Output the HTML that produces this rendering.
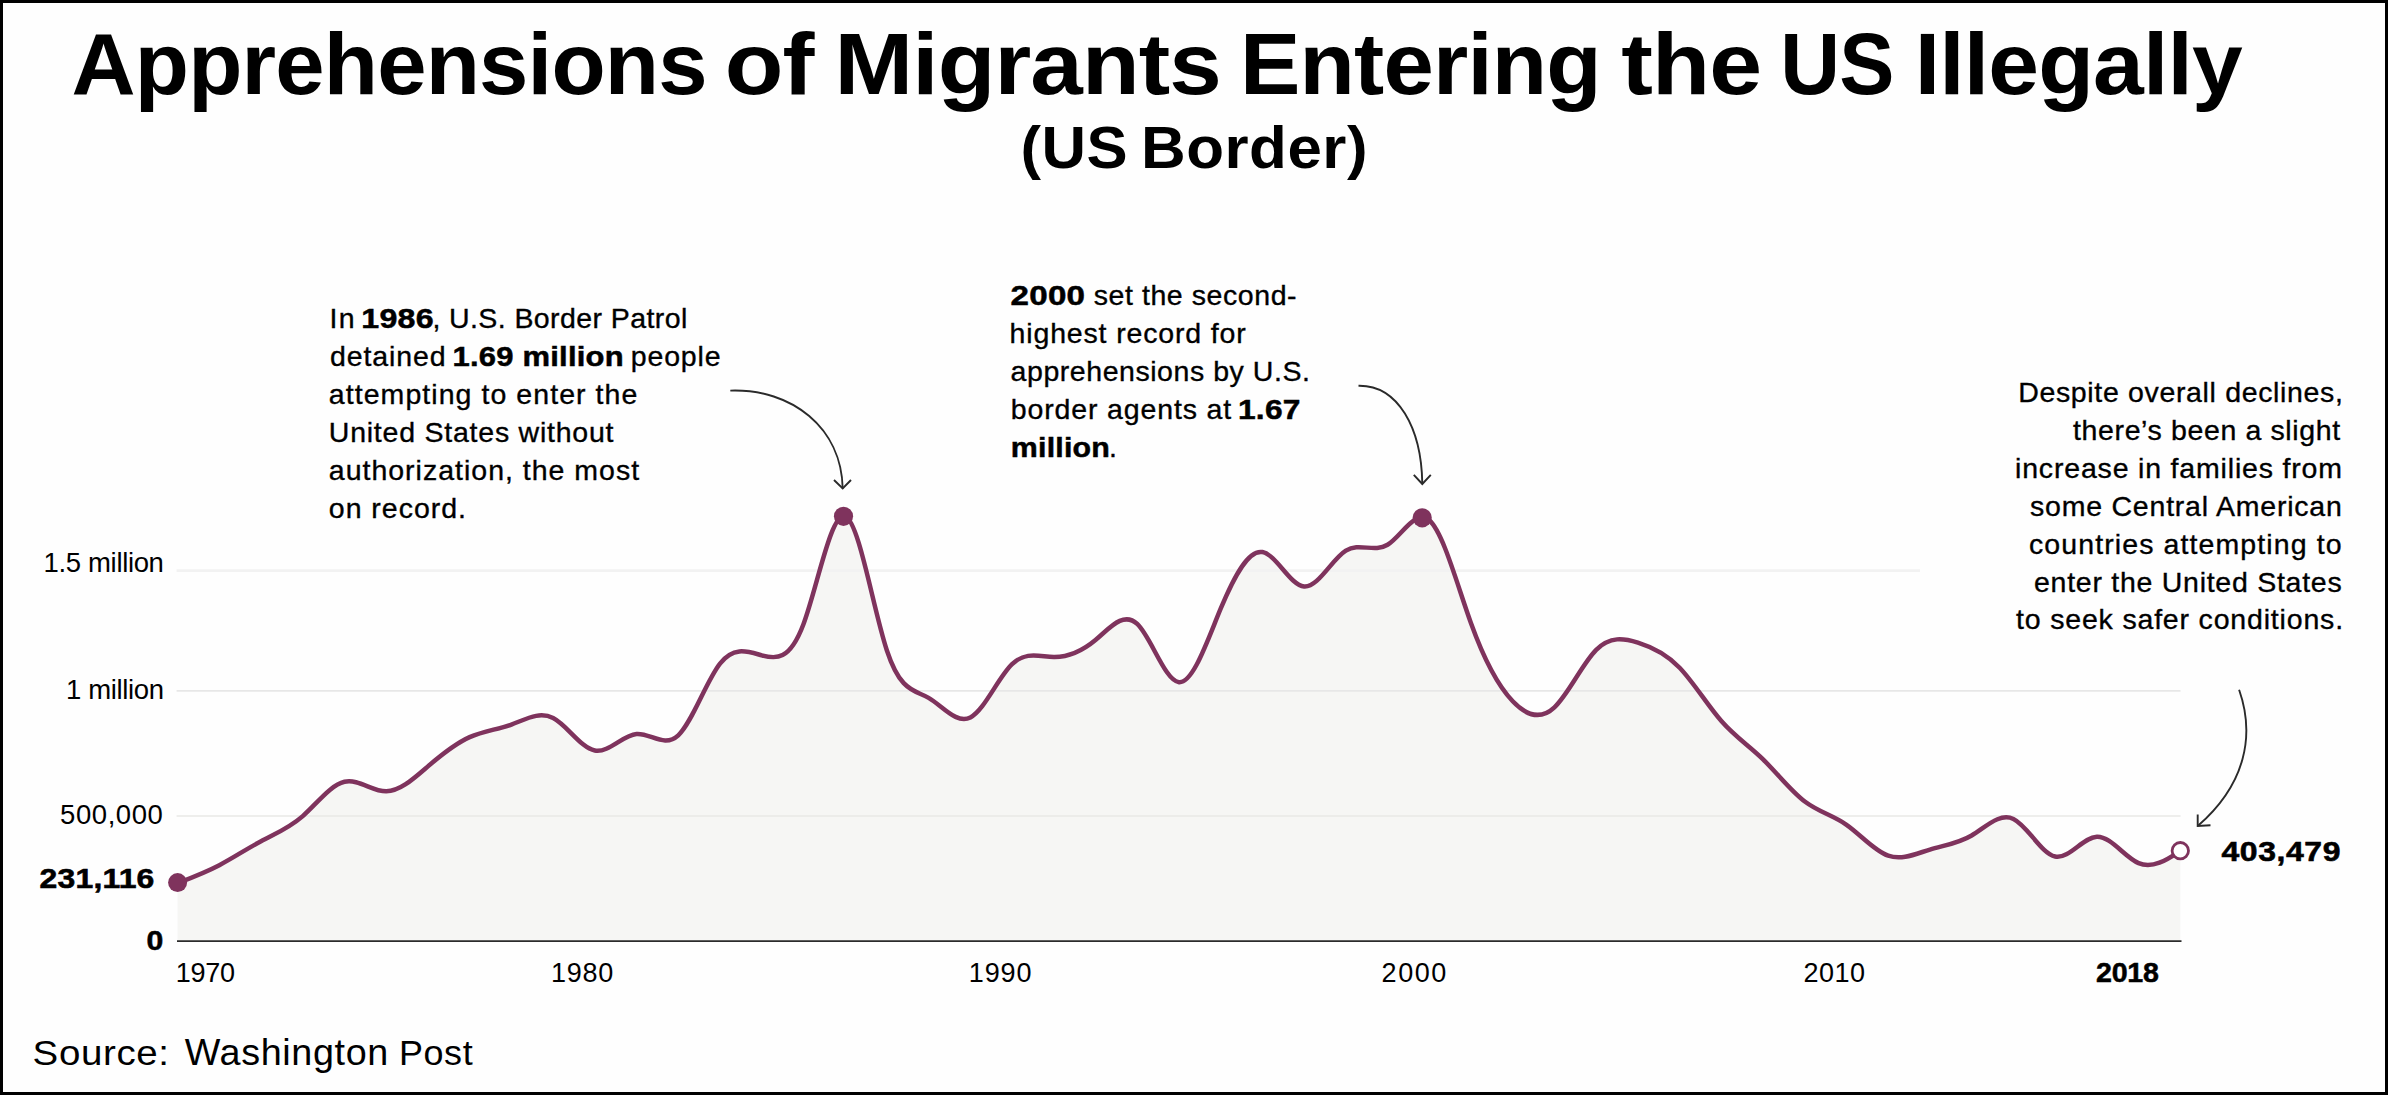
<!DOCTYPE html>
<html><head><meta charset="utf-8"><title>Apprehensions of Migrants Entering the US Illegally</title>
<style>
html,body{margin:0;padding:0;background:#fff;}
body{width:2388px;height:1095px;overflow:hidden;}
svg{display:block;font-family:"Liberation Sans",sans-serif;}
text{white-space:pre;}
</style></head><body>
<svg width="2388" height="1095" viewBox="0 0 2388 1095">
<rect x="0" y="0" width="2388" height="1095" fill="#fefefe"/>

<path d="M177.60,883.09C191.51,877.78 205.42,872.46 219.32,865.17C233.23,857.87 247.14,848.59 261.05,841.20C274.95,833.81 288.86,828.30 302.77,816.07C316.68,803.84 330.58,784.89 344.49,781.77C358.40,778.66 372.31,791.38 386.21,791.30C400.12,791.23 414.03,778.36 427.94,766.39C441.85,754.43 455.75,743.38 469.66,737.15C483.57,730.93 497.48,729.53 511.38,724.53C525.29,719.52 539.20,710.91 553.11,718.03C567.01,725.14 580.92,747.98 594.83,750.49C608.74,752.99 622.64,735.16 636.55,733.95C650.46,732.74 664.37,748.16 678.27,735.30C692.18,722.45 706.09,681.32 720.00,663.58C733.91,645.83 747.81,651.46 761.72,655.32C775.63,659.18 789.54,661.28 803.44,624.23C817.35,587.18 831.26,510.97 845.17,516.27C859.07,521.57 872.98,608.37 886.89,650.43C900.80,692.50 914.70,689.83 928.61,697.83C942.52,705.82 956.43,724.49 970.34,717.42C984.24,710.36 998.15,677.56 1012.06,664.16C1025.97,650.76 1039.87,656.75 1053.78,656.96C1067.69,657.17 1081.60,651.59 1095.50,640.01C1109.41,628.43 1123.32,610.85 1137.23,623.96C1151.13,637.07 1165.04,680.87 1178.95,682.15C1192.86,683.43 1206.77,642.19 1220.67,608.73C1234.58,575.26 1248.49,549.57 1262.40,552.08C1276.30,554.59 1290.21,585.30 1304.12,586.45C1318.03,587.60 1331.93,559.20 1345.84,550.60C1359.75,542.00 1373.66,553.21 1387.56,544.77C1401.47,536.32 1415.38,508.22 1429.29,520.31C1443.20,532.41 1457.10,584.71 1471.01,623.28C1484.92,661.85 1498.83,686.70 1512.73,701.32C1526.64,715.93 1540.55,720.30 1554.46,707.28C1568.36,694.25 1582.27,663.83 1596.18,649.84C1610.09,635.85 1623.99,638.31 1637.90,642.64C1651.81,646.98 1665.72,653.20 1679.63,667.74C1693.53,682.28 1707.44,705.14 1721.35,721.05C1735.26,736.96 1749.16,745.91 1763.07,759.42C1776.98,772.93 1790.89,790.99 1804.79,801.53C1818.70,812.07 1832.61,815.09 1846.52,824.79C1860.42,834.49 1874.33,850.89 1888.24,855.70C1902.15,860.51 1916.05,853.74 1929.96,849.54C1943.87,845.35 1957.78,843.73 1971.69,835.48C1985.59,827.24 1999.50,812.37 2013.41,818.95C2027.32,825.53 2041.22,853.54 2055.13,856.48C2069.04,859.42 2082.95,837.29 2096.85,836.73C2110.76,836.17 2124.67,857.18 2138.58,863.16C2152.48,869.13 2166.39,860.08 2180.30,851.03L2180.30,941.10L177.60,941.10Z" fill="#f6f6f4"/>
<line x1="176.6" y1="570.6" x2="1920" y2="570.6" stroke="#f2f2f2" stroke-width="2.6"/>
<line x1="176.6" y1="690.9" x2="2180.5" y2="690.9" stroke="#e7e7e7" stroke-width="1.7"/>
<line x1="176.6" y1="816" x2="2180.5" y2="816" stroke="#e8e8e6" stroke-width="1.7"/>
<line x1="177" y1="941.1" x2="2181.5" y2="941.1" stroke="#2b2b2b" stroke-width="1.9"/>
<path d="M177.60,883.09C191.51,877.78 205.42,872.46 219.32,865.17C233.23,857.87 247.14,848.59 261.05,841.20C274.95,833.81 288.86,828.30 302.77,816.07C316.68,803.84 330.58,784.89 344.49,781.77C358.40,778.66 372.31,791.38 386.21,791.30C400.12,791.23 414.03,778.36 427.94,766.39C441.85,754.43 455.75,743.38 469.66,737.15C483.57,730.93 497.48,729.53 511.38,724.53C525.29,719.52 539.20,710.91 553.11,718.03C567.01,725.14 580.92,747.98 594.83,750.49C608.74,752.99 622.64,735.16 636.55,733.95C650.46,732.74 664.37,748.16 678.27,735.30C692.18,722.45 706.09,681.32 720.00,663.58C733.91,645.83 747.81,651.46 761.72,655.32C775.63,659.18 789.54,661.28 803.44,624.23C817.35,587.18 831.26,510.97 845.17,516.27C859.07,521.57 872.98,608.37 886.89,650.43C900.80,692.50 914.70,689.83 928.61,697.83C942.52,705.82 956.43,724.49 970.34,717.42C984.24,710.36 998.15,677.56 1012.06,664.16C1025.97,650.76 1039.87,656.75 1053.78,656.96C1067.69,657.17 1081.60,651.59 1095.50,640.01C1109.41,628.43 1123.32,610.85 1137.23,623.96C1151.13,637.07 1165.04,680.87 1178.95,682.15C1192.86,683.43 1206.77,642.19 1220.67,608.73C1234.58,575.26 1248.49,549.57 1262.40,552.08C1276.30,554.59 1290.21,585.30 1304.12,586.45C1318.03,587.60 1331.93,559.20 1345.84,550.60C1359.75,542.00 1373.66,553.21 1387.56,544.77C1401.47,536.32 1415.38,508.22 1429.29,520.31C1443.20,532.41 1457.10,584.71 1471.01,623.28C1484.92,661.85 1498.83,686.70 1512.73,701.32C1526.64,715.93 1540.55,720.30 1554.46,707.28C1568.36,694.25 1582.27,663.83 1596.18,649.84C1610.09,635.85 1623.99,638.31 1637.90,642.64C1651.81,646.98 1665.72,653.20 1679.63,667.74C1693.53,682.28 1707.44,705.14 1721.35,721.05C1735.26,736.96 1749.16,745.91 1763.07,759.42C1776.98,772.93 1790.89,790.99 1804.79,801.53C1818.70,812.07 1832.61,815.09 1846.52,824.79C1860.42,834.49 1874.33,850.89 1888.24,855.70C1902.15,860.51 1916.05,853.74 1929.96,849.54C1943.87,845.35 1957.78,843.73 1971.69,835.48C1985.59,827.24 1999.50,812.37 2013.41,818.95C2027.32,825.53 2041.22,853.54 2055.13,856.48C2069.04,859.42 2082.95,837.29 2096.85,836.73C2110.76,836.17 2124.67,857.18 2138.58,863.16C2152.48,869.13 2166.39,860.08 2180.30,851.03" fill="none" stroke="#7f335d" stroke-width="4.5" stroke-linejoin="round" stroke-linecap="round"/>
<circle cx="177.6" cy="882.6" r="9.5" fill="#7f335d"/>
<circle cx="843.5" cy="516.3" r="9.6" fill="#7f335d"/>
<circle cx="1422.2" cy="517.8" r="9.6" fill="#7f335d"/>
<circle cx="2180.3" cy="850.7" r="8.2" fill="#fff" stroke="#7f335d" stroke-width="2.8"/>
<g fill="none" stroke="#2a2a2a" stroke-width="1.9" stroke-linecap="butt" stroke-linejoin="miter">
<path d="M730.3,390.6 C792,388.5 841.5,428 842.7,488.5"/>
<path d="M834,480 L842.7,488.5 L851,480"/>
<path d="M1358.5,385.7 C1398,385 1421.5,428 1422.3,483.8"/>
<path d="M1413.8,474.8 L1422.3,484 L1430.8,474.8"/>
<path d="M2239.1,689.8 C2255,735 2246,784 2198,825.8"/>
<path d="M2197.7,814.6 L2197.7,826 L2210.5,825.3"/>
</g>

<text transform="translate(71.60,93.70) scale(1.0258,1)" font-size="86.50" font-weight="700" letter-spacing="-0.800" fill="#000">Apprehensions</text>
<text transform="translate(724.80,93.70) scale(1.1105,1)" font-size="86.50" font-weight="700" letter-spacing="-0.800" fill="#000">of</text>
<text transform="translate(834.60,93.70) scale(1.0915,1)" font-size="86.50" font-weight="700" letter-spacing="-0.800" fill="#000">Migrants</text>
<text transform="translate(1240.00,93.70) scale(1.0475,1)" font-size="86.50" font-weight="700" letter-spacing="-0.800" fill="#000">Entering</text>
<text transform="translate(1621.20,93.70) scale(1.0993,1)" font-size="86.50" font-weight="700" letter-spacing="-0.800" fill="#000">the</text>
<text transform="translate(1780.20,93.70) scale(0.9561,1)" font-size="86.50" font-weight="700" letter-spacing="-0.800" fill="#000">US</text>
<text transform="translate(1914.80,93.70) scale(1.0549,1)" font-size="86.50" font-weight="700" letter-spacing="-0.800" fill="#000">Illegally</text>
<text transform="translate(1020.40,168.40) scale(1.0453,1)" font-size="59.00" font-weight="700" letter-spacing="0.500" fill="#000">(US</text>
<text transform="translate(1141.00,168.40) scale(1.0486,1)" font-size="59.00" font-weight="700" letter-spacing="0.500" fill="#000">Border)</text>
<text transform="translate(32.60,1064.80) scale(1.0691,1)" font-size="36.00" letter-spacing="0.600" fill="#000">Source:</text>
<text transform="translate(184.80,1064.80) scale(1.0479,1)" font-size="36.00" letter-spacing="0.600" fill="#000">Washington</text>
<text transform="translate(399.00,1064.80) scale(0.9975,1)" font-size="36.00" letter-spacing="0.600" fill="#000">Post</text>
<text x="43.60" y="572.00" font-size="27.50" letter-spacing="-0.350" fill="#000">1.5 million</text>
<text x="66.00" y="699.30" font-size="27.50" letter-spacing="-0.350" fill="#000">1 million</text>
<text x="60.00" y="824.00" font-size="27.50" letter-spacing="0.582" fill="#000">500,000</text>
<text transform="translate(146.60,950.40) scale(1.1200,1)" font-size="27.00" font-weight="700" stroke="#000" stroke-width="0.50" letter-spacing="0.000" fill="#000">0</text>
<text transform="translate(39.60,888.00) scale(1.1200,1)" font-size="28.50" font-weight="700" stroke="#000" stroke-width="0.60" letter-spacing="0.168" fill="#000">231,116</text>
<text transform="translate(2221.40,860.50) scale(1.1200,1)" font-size="28.50" font-weight="700" stroke="#000" stroke-width="0.60" letter-spacing="0.553" fill="#000">403,479</text>
<text x="175.80" y="982.00" font-size="27.00" letter-spacing="-0.266" fill="#000">1970</text>
<text x="551.00" y="982.00" font-size="27.00" letter-spacing="0.702" fill="#000">1980</text>
<text x="968.80" y="982.00" font-size="27.00" letter-spacing="0.895" fill="#000">1990</text>
<text x="1381.60" y="982.00" font-size="27.00" letter-spacing="1.534" fill="#000">2000</text>
<text x="1803.40" y="982.00" font-size="27.00" letter-spacing="0.528" fill="#000">2010</text>
<text transform="translate(2096.00,982.00) scale(1.0600,1)" font-size="27.00" font-weight="700" stroke="#000" stroke-width="0.50" letter-spacing="-0.252" fill="#000">2018</text>
<text x="329.40" y="327.90" font-size="28.50" stroke="#000" stroke-width="0.35" letter-spacing="1.400" fill="#000">In</text>
<text transform="translate(361.30,327.90) scale(1.1291,1)" font-size="28.50" font-weight="700" stroke="#000" stroke-width="0.50" letter-spacing="0.200" fill="#000">1986</text>
<text x="432.40" y="327.90" font-size="28.50" stroke="#000" stroke-width="0.35" letter-spacing="0.410" fill="#000">, U.S. Border Patrol</text>
<text x="329.90" y="365.85" font-size="28.50" stroke="#000" stroke-width="0.35" letter-spacing="0.916" fill="#000">detained</text>
<text transform="translate(452.60,365.85) scale(1.0865,1)" font-size="28.50" font-weight="700" stroke="#000" stroke-width="0.50" letter-spacing="0.200" fill="#000">1.69 million</text>
<text x="630.80" y="365.85" font-size="28.50" stroke="#000" stroke-width="0.35" letter-spacing="0.840" fill="#000">people</text>
<text x="328.80" y="403.80" font-size="28.50" stroke="#000" stroke-width="0.35" letter-spacing="1.063" fill="#000">attempting to enter the</text>
<text x="328.80" y="441.75" font-size="28.50" stroke="#000" stroke-width="0.35" letter-spacing="0.770" fill="#000">United States without</text>
<text x="328.80" y="479.70" font-size="28.50" stroke="#000" stroke-width="0.35" letter-spacing="0.999" fill="#000">authorization, the most</text>
<text x="328.80" y="517.65" font-size="28.50" stroke="#000" stroke-width="0.35" letter-spacing="0.985" fill="#000">on record.</text>
<text transform="translate(1010.60,304.70) scale(1.1634,1)" font-size="28.50" font-weight="700" stroke="#000" stroke-width="0.50" letter-spacing="0.200" fill="#000">2000</text>
<text x="1093.70" y="304.70" font-size="28.50" stroke="#000" stroke-width="0.35" letter-spacing="0.571" fill="#000">set the second-</text>
<text x="1009.60" y="342.65" font-size="28.50" stroke="#000" stroke-width="0.35" letter-spacing="0.841" fill="#000">highest record for</text>
<text x="1010.60" y="380.60" font-size="28.50" stroke="#000" stroke-width="0.35" letter-spacing="0.550" fill="#000">apprehensions by U.S.</text>
<text x="1010.80" y="418.55" font-size="28.50" stroke="#000" stroke-width="0.35" letter-spacing="0.856" fill="#000">border agents at</text>
<text transform="translate(1238.00,418.55) scale(1.1141,1)" font-size="28.50" font-weight="700" stroke="#000" stroke-width="0.50" letter-spacing="0.200" fill="#000">1.67</text>
<text transform="translate(1010.80,456.50) scale(1.0651,1)" font-size="28.50" font-weight="700" stroke="#000" stroke-width="0.50" letter-spacing="0.200" fill="#000">million</text>
<text x="1109.10" y="456.50" font-size="28.50" stroke="#000" stroke-width="0.35" letter-spacing="0.000" fill="#000">.</text>
<text x="2018.20" y="402.00" font-size="28.50" stroke="#000" stroke-width="0.35" letter-spacing="0.658" fill="#000">Despite overall declines,</text>
<text x="2073.00" y="439.90" font-size="28.50" stroke="#000" stroke-width="0.35" letter-spacing="0.630" fill="#000">there’s been a slight</text>
<text x="2015.00" y="477.80" font-size="28.50" stroke="#000" stroke-width="0.35" letter-spacing="0.823" fill="#000">increase in families from</text>
<text x="2030.00" y="515.70" font-size="28.50" stroke="#000" stroke-width="0.35" letter-spacing="0.780" fill="#000">some Central American</text>
<text x="2029.00" y="553.60" font-size="28.50" stroke="#000" stroke-width="0.35" letter-spacing="1.099" fill="#000">countries attempting to</text>
<text x="2034.00" y="591.50" font-size="28.50" stroke="#000" stroke-width="0.35" letter-spacing="0.734" fill="#000">enter the United States</text>
<text x="2016.00" y="629.40" font-size="28.50" stroke="#000" stroke-width="0.35" letter-spacing="0.822" fill="#000">to seek safer conditions.</text>
<rect x="1.5" y="1.5" width="2385" height="1092" fill="none" stroke="#000" stroke-width="3"/>
</svg>
</body></html>
